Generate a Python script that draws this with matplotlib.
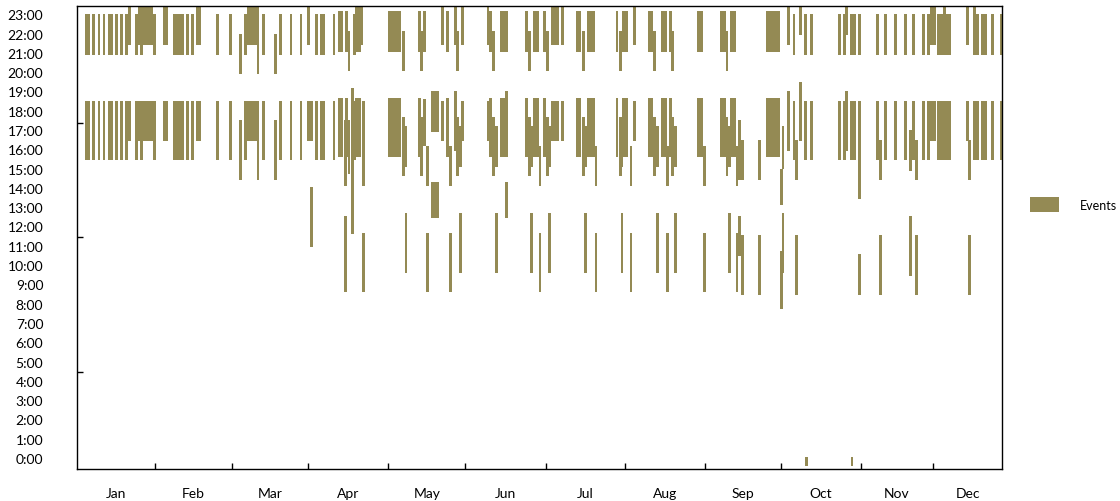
import matplotlib
matplotlib.use("Agg")
import matplotlib.pyplot as plt
from matplotlib.patches import Patch

plt.rcParams['font.family'] = ['Lato', 'DejaVu Sans']

# ---------------- data ----------------
month_labels = ["Jan", "Feb", "Mar", "Apr", "May", "Jun",
                "Jul", "Aug", "Sep", "Oct", "Nov", "Dec"]
# month boundaries on the day axis (as drawn in the reference)
month_bounds = [0, 30.6, 61.25, 91.3, 123.1, 153.6, 185.4, 216.6,
                248.4, 278.4, 310.1, 338.5, 366]
hour_labels = ["0:00", "1:00", "2:00", "3:00", "4:00", "5:00", "6:00", "7:00",
               "8:00", "9:00", "10:00", "11:00", "12:00", "13:00", "14:00",
               "15:00", "16:00", "17:00", "18:00", "19:00", "20:00", "21:00",
               "22:00", "23:00"]
odd_ticks = [17.36, 11.45, 4.46]

# recurring day patterns: evening window + afternoon window
std_days = [3, 4, 6, 8, 10, 12, 13, 15, 17, 19, 23, 25, 30, 38, 39, 40, 41, 43,
            45, 55, 60, 66, 73, 80, 84, 88, 94, 96, 97, 101, 109, 283, 287.6,
            290, 301, 303, 305.8, 307, 316.1, 319.2, 323.2, 327.2, 330.3,
            334.3, 336.3, 340.2, 341.3, 342.4, 343.5, 344.6, 354.5, 355.7,
            357.6, 358.8, 361.6, 365.2]
std_windows = [(20.9, 23.0), (15.45, 18.5)]

late_days = [20, 24, 25, 26, 27, 28, 29, 34, 35, 47, 48, 67, 68, 69, 70, 71, 91,
             143.9, 152, 162, 187.5, 188.5, 189.5, 191.4, 220, 337.5, 338.5,
             351.7]
late_windows = [(21.4, 24.0), (16.45, 18.5)]

early_days = [64, 71, 78]
early_windows = [(19.9, 22.0), (14.4, 17.5)]

long_days = [103, 104, 106, 110, 111, 123, 124, 125, 126, 127, 134.8, 145.9,
             163, 167.3, 168.3, 169.3, 177.2, 180.3, 181.5, 184.3, 197.3,
             198.4, 201.7, 202.8, 203.9, 213, 215.6, 216.8, 225.8, 226.9, 231,
             232.2, 234.2, 245.2, 246.4, 254.3, 255.5, 258.3, 259.5, 272.5,
             273.6, 274.7, 275.8, 277.0]
long_windows = [(21.05, 23.15), (15.6, 18.65)]

mid_days = [128.5, 135.6, 150, 164, 178.4, 185.5, 199.7, 214.5, 227.8, 235,
            256.5]
mid_windows = [(20.05, 22.15), (14.6, 17.65)]

morning_a_days = [129.5, 151, 165.3, 179.2, 186.3, 200.5, 215, 229, 236.1,
                  257.5]
morning_a_windows = [(15.1, 17.2), (9.6, 12.7)]

morning_b_days = [138, 147.1, 182.5, 204.7, 218.5, 233, 247.5, 260.5]
morning_b_windows = [(14.1, 16.15), (8.6, 11.65)]

morning_c_days = [262.6, 269.4, 284, 317.3, 331.5, 352.5]
morning_c_windows = [(14.4, 16.5), (8.45, 11.55)]

# single events
extra_day = [92, 92, 105.5, 105.5, 107, 107, 108.3, 110, 111, 112, 112.7, 112.7,
             136.8, 136.8, 140, 141, 142, 140, 141, 142, 149, 149, 169.3, 169.3,
             261.5, 261.5, 278, 278, 278.7, 278.7, 281, 281, 285.6, 285.6,
             303.8, 303.8, 309, 309, 309, 329.1, 329.1, 342.6, 354.5, 288, 306]
extra_start = [16.45, 10.93, 14.1, 8.6, 20.05, 14.7, 11.6, 21.4, 21.4, 21.4,
               14.1, 8.6, 21.05, 16.15, 16.9, 16.9, 16.9, 12.45, 12.45, 12.45,
               21.4, 15.9, 15.6, 12.45, 14.4, 10.45, 13.1, 7.7, 15.0, 9.6,
               21.4, 15.9, 21.9, 16.45, 21.9, 15.9, 20.9, 13.4, 8.45, 14.9,
               9.45, 22.9, 22.9, -0.4, -0.4]
extra_end = [18.5, 14.05, 17.5, 12.55, 22.15, 17.5, 19.15, 24.0, 24.0, 24.0,
             18.5, 11.65, 23.15, 18.6, 19.0, 19.0, 19.0, 14.3, 14.3, 14.3,
             24.0, 19.0, 19.0, 14.3, 17.5, 12.55, 15.0, 10.75, 17.2, 12.7,
             24.0, 19.0, 24.0, 19.5, 24.0, 19.0, 23.0, 18.5, 10.55, 17.0,
             12.55, 24.0, 24.0, 0.05, 0.05]

# ---------------- build event table ----------------
groups = [(std_days, std_windows), (late_days, late_windows),
          (early_days, early_windows), (long_days, long_windows),
          (mid_days, mid_windows), (morning_a_days, morning_a_windows),
          (morning_b_days, morning_b_windows),
          (morning_c_days, morning_c_windows)]
ev_day, ev_start, ev_end = [], [], []
for days, windows in groups:
    for d in days:
        for s, e in windows:
            ev_day.append(d)
            ev_start.append(s)
            ev_end.append(e)
ev_day += extra_day
ev_start += extra_start
ev_end += extra_end
ev_dur = [e - s for s, e in zip(ev_start, ev_end)]

# ---------------- plot ----------------
W, H = 1120, 502
fig = plt.figure(figsize=(W / 100, H / 100), dpi=100)
L, R, T, B = 77.3, 1002.3, 7.3, 470
ax = fig.add_axes([L / W, 1 - B / H, (R - L) / W, (B - T) / H])

color = "#948A54"
ax.bar(ev_day, ev_dur, bottom=ev_start, width=1.08, align='edge',
       color=color, linewidth=0)

ax.set_xlim(0, 366)
ax.set_ylim(-0.57, 23.41)

ax.set_yticks(range(24))
ax.set_yticklabels(hour_labels)
ax.tick_params(axis='y', which='major', length=0, pad=24.5, labelsize=10)
ax.set_yticks(odd_ticks, minor=True)
ax.tick_params(axis='y', which='minor', direction='in', length=4, width=1)

ax.set_xticks(month_bounds[1:-1])
ax.set_xticklabels([])
ax.tick_params(axis='x', which='major', direction='in', length=4.3, width=1)
mids = [(a + b) / 2 for a, b in zip(month_bounds[:-1], month_bounds[1:])]
ax.set_xticks(mids, minor=True)
ax.set_xticklabels(month_labels, minor=True)
ax.tick_params(axis='x', which='minor', length=0, pad=13, labelsize=10)

for sp in ax.spines.values():
    sp.set_linewidth(1.0)
    sp.set_color('black')

handle = Patch(facecolor=color, edgecolor='none', label='Events')
fig.legend(handles=[handle], loc='center left',
           bbox_to_anchor=(1030 / W, 1 - 205.5 / H), frameon=False,
           fontsize=9, handlelength=2.3, handleheight=1.5,
           handletextpad=1.7, borderpad=0, borderaxespad=0)

fig.savefig("out.png", dpi=100)
